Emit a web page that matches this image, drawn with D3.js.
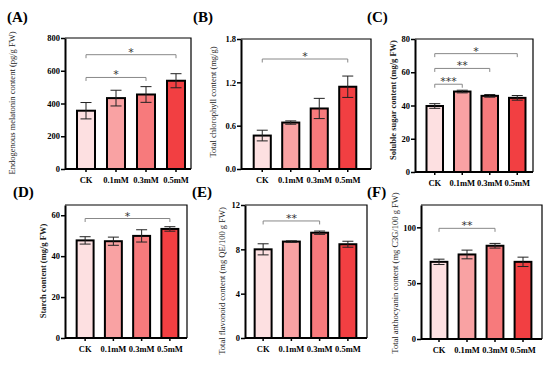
<!DOCTYPE html>
<html><head><meta charset="utf-8">
<script src="https://cdn.jsdelivr.net/npm/d3@7"></script>
<style>body{margin:0;background:#fff}svg{display:block}</style>
</head><body>
<svg id="c" width="550" height="372"></svg>
<script>
const categories = ["CK","0.1mM","0.3mM","0.5mM"];
const colors = ["#fde0e1","#f9a2a3","#f77a7c","#f23f42"];

const melatonin = [356, 433, 455, 539];
const melatoninErr = [50, 48, 48, 43];
const chlorophyll = [0.463, 0.643, 0.838, 1.139];
const chlorophyllErr = [0.074, 0.023, 0.14, 0.148];
const sugar = [39.7, 48.4, 45.8, 44.6];
const sugarErr = [1.4, 0.8, 0.8, 1.4];
const starch = [47.7, 47.3, 49.9, 53.3];
const starchErr = [1.8, 2.0, 3.0, 1.1];
const flavonoid = [8.0, 8.7, 9.5, 8.46];
const flavonoidErr = [0.5, 0.07, 0.15, 0.27];
const anthocyanin = [69.1, 75.7, 83.5, 69.1];
const anthocyaninErr = [2.4, 3.9, 2.1, 4.2];

const ticksA = [0,200,400,600,800];
const ticksB = [0,0.6,1.2,1.8];
const ticksC = [0,20,40,60,80];
const ticksD = [0,20,40,60];
const ticksE = [0,4,8,12];
const ticksF = [0,50,100];

const sigA = [{from:"CK",to:"0.3mM",y:559,label:"*"},{from:"CK",to:"0.5mM",y:698,label:"*"}];
const sigB = [{from:"CK",to:"0.5mM",y:1.523,label:"*"}];
const sigC = [{from:"CK",to:"0.1mM",y:52.8,label:"***"},{from:"CK",to:"0.3mM",y:62.3,label:"**"},{from:"CK",to:"0.5mM",y:71.2,label:"*"}];
const sigD = [{from:"CK",to:"0.5mM",y:58.4,label:"*"}];
const sigE = [{from:"CK",to:"0.3mM",y:10.56,label:"**"}];
const sigF = [{from:"CK",to:"0.3mM",y:99.1,label:"**"}];

const panels = [
 {tag:"(A)", tagX:7, tagY:22, values:melatonin, err:melatoninErr, ticks:ticksA, fmt:d=>d, ymax:800, sig:sigA,
  axisX:65, right:191, top:38, bottom:169, band:[71,191], label:"Endogenous melatonin content (pg/g FW)", labX:12, labY:103, bold:false},
 {tag:"(B)", tagX:193, tagY:22, values:chlorophyll, err:chlorophyllErr, ticks:ticksB, fmt:d=>d.toFixed(1), ymax:1.8, sig:sigB,
  axisX:241, right:371, top:39, bottom:169, band:[248,362], label:"Total chlorophyll content (mg/g)", labX:213, labY:102, bold:false},
 {tag:"(C)", tagX:367, tagY:22, values:sugar, err:sugarErr, ticks:ticksC, fmt:d=>d, ymax:80, sig:sigC,
  axisX:415, right:533, top:39, bottom:172, band:[421,531], label:"Soluble sugar content (mg/g FW)", labX:393, labY:100, bold:true},
 {tag:"(D)", tagX:13, tagY:197, values:starch, err:starchErr, ticks:ticksD, fmt:d=>d, ymax:65, sig:sigD,
  axisX:65, right:187, top:205, bottom:338, band:[71,184], label:"Starch content (mg/g FW)", labX:43, labY:271, bold:true},
 {tag:"(E)", tagX:192, tagY:197, values:flavonoid, err:flavonoidErr, ticks:ticksE, fmt:d=>d, ymax:12, sig:sigE,
  axisX:245, right:367, top:205, bottom:338, band:[249,362], label:"Total flavonoid content (mg QE/100 g FW)", labX:222, labY:281, bold:false},
 {tag:"(F)", tagX:367, tagY:197, values:anthocyanin, err:anthocyaninErr, ticks:ticksF, fmt:d=>d, ymax:120, sig:sigF,
  axisX:421, right:542, top:205, bottom:339, band:[425,537], label:"Total anthocyanin content (mg C3G/100 g FW)", labX:395, labY:273, bold:false}
];

const svg = d3.select("#c");
const serif = "'Liberation Serif','DejaVu Serif',serif";

panels.forEach(p => {
  const g = svg.append("g");
  const x = d3.scaleBand().domain(categories).range(p.band).padding(0);
  const y = d3.scaleLinear().domain([0,p.ymax]).range([p.bottom,p.top]);
  const bw = x.step()*0.6;
  const cx = c => x(c) + x.bandwidth()/2;

  g.append("path").attr("d",`M${p.axisX},${p.top}H${p.right}V${p.bottom}`)
    .attr("fill","none").attr("stroke","#000").attr("stroke-width",1.2);

  g.selectAll("rect.bar").data(p.values).join("rect")
    .attr("x",(d,i)=>cx(categories[i])-bw/2)
    .attr("y",d=>y(d))
    .attr("width",bw)
    .attr("height",d=>y(0)-y(d))
    .attr("fill",(d,i)=>colors[i])
    .attr("stroke","#000").attr("stroke-width",2);

  p.values.forEach((v,i)=>{
    const c = cx(categories[i]), e = p.err[i];
    const capW = 5.5;
    g.append("path").attr("d",
      `M${c},${y(v-e)}V${y(v+e)}M${c-capW},${y(v+e)}H${c+capW}M${c-capW},${y(v-e)}H${c+capW}`)
      .attr("stroke","#222").attr("stroke-width",1).attr("fill","none");
  });

  const ya = d3.axisLeft(y).tickValues(p.ticks).tickFormat(p.fmt).tickSize(4).tickSizeOuter(0);
  const yg = g.append("g").attr("transform",`translate(${p.axisX},0)`).call(ya);
  const xa = d3.axisBottom(x).tickSize(3).tickSizeOuter(0);
  const xg = g.append("g").attr("transform",`translate(0,${p.bottom})`).call(xa);
  xg.select(".domain").attr("d",`M${p.axisX},0H${p.right}`);
  [yg,xg].forEach(a=>{
    a.select(".domain").attr("stroke","#000").attr("stroke-width",2);
    a.selectAll(".tick line").attr("stroke","#000").attr("stroke-width",1.5);
    a.selectAll("text").attr("font-family",serif).attr("font-weight","bold").attr("font-size",8.5).attr("fill","#000");
  });
  yg.selectAll("text").attr("x",-5);
  xg.selectAll("text").attr("y",8);

  p.sig.forEach(s=>{
    const x1 = cx(s.from), x2 = cx(s.to), yy = y(s.y);
    g.append("path").attr("d",`M${x1},${yy+3.5}V${yy}H${x2}V${yy+3.5}`)
      .attr("fill","none").attr("stroke","#888").attr("stroke-width",1);
    g.append("text").attr("x",(x1+x2)/2).attr("y",yy+1).attr("text-anchor","middle")
      .attr("font-family","'DejaVu Sans',sans-serif").attr("font-size",11).attr("fill","#333").text(s.label);
  });

  g.append("text").attr("transform",`translate(${p.labX},${p.labY}) rotate(-90)`)
    .attr("text-anchor","middle").attr("dominant-baseline","central")
    .attr("font-family",serif).attr("font-size",8.5).attr("font-weight",p.bold?"bold":"normal")
    .attr("fill","#222").text(p.label);

  g.append("text").attr("x",p.tagX).attr("y",p.tagY)
    .attr("font-family",serif).attr("font-weight","bold").attr("font-size",15).attr("fill","#000").text(p.tag);
});
</script>
</body></html>
